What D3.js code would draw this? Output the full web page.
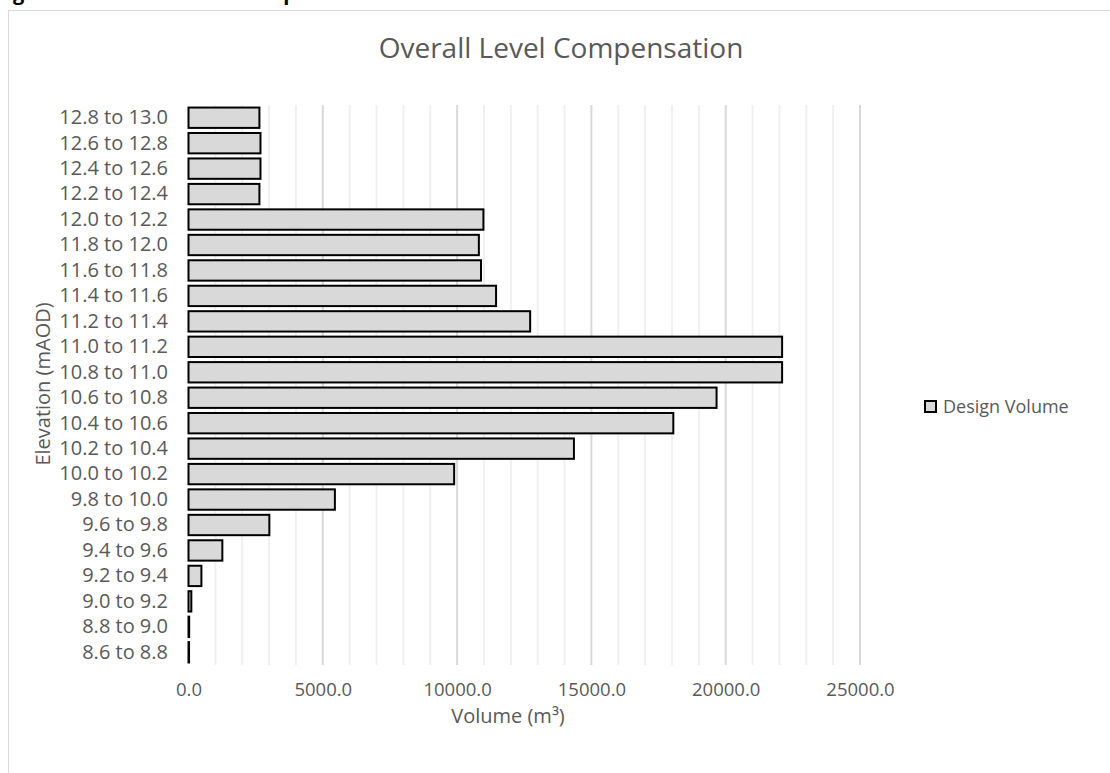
<!DOCTYPE html>
<html lang="en">
<head>
    <meta charset="UTF-8">
    <title>Overall Level Compensation</title>
    <script src="https://d3js.org/d3.v7.min.js"></script>
    <style>
        body { margin: 0; background: #fff; }
        svg text { font-family: "Open Sans", Lato, sans-serif; fill: #595959; }
    </style>
</head>
<body>
    <div id="chart"></div>

    <script>
        // Elevation bands, top to bottom as in the chart
        const bands = [
            "12.8 to 13.0", "12.6 to 12.8", "12.4 to 12.6", "12.2 to 12.4",
            "12.0 to 12.2", "11.8 to 12.0", "11.6 to 11.8", "11.4 to 11.6",
            "11.2 to 11.4", "11.0 to 11.2", "10.8 to 11.0", "10.6 to 10.8",
            "10.4 to 10.6", "10.2 to 10.4", "10.0 to 10.2", "9.8 to 10.0",
            "9.6 to 9.8", "9.4 to 9.6", "9.2 to 9.4", "9.0 to 9.2",
            "8.8 to 9.0", "8.6 to 8.8"
        ];
        // Design volume (m3) for each band
        const designVolume = [
            2640, 2680, 2680, 2640,
            10980, 10810, 10890, 11450,
            12720, 22100, 22100, 19660,
            18050, 14350, 9890, 5450,
            3010, 1260, 480, 105,
            25, 20
        ];
        const xTicks = [0, 5000, 10000, 15000, 20000, 25000];

        const width = 1110;
        const height = 773;

        const svg = d3.select("#chart")
            .append("svg")
            .attr("width", width)
            .attr("height", height);

        // figure caption above the chart box (only its lower edge is on the page)
        svg.append("text")
            .attr("x", -4)
            .attr("y", 0)
            .style("font-weight", "bold")
            .style("font-size", "20px")
            .style("fill", "#000")
            .text("Figure 4.2: Overall Level Compensation");

        // chart frame
        svg.append("rect")
            .attr("x", 8.5)
            .attr("y", 10.5)
            .attr("width", 1200)
            .attr("height", 900)
            .attr("fill", "#fff")
            .attr("stroke", "#d9d9d9");

        const x = d3.scaleLinear()
            .domain([0, 25000])
            .range([188.5, 860]);

        const y = d3.scaleBand()
            .domain(bands)
            .range([105, 665])
            .paddingInner(0.2)
            .paddingOuter(0.1);

        // gridlines, every 1000 with darker ones at the labelled ticks
        const grid = d3.range(1000, 25001, 1000);
        svg.append("g")
            .selectAll("line")
            .data(grid)
            .join("line")
            .attr("x1", d => x(d))
            .attr("x2", d => x(d))
            .attr("y1", 105)
            .attr("y2", 665)
            .attr("stroke", d => d % 5000 === 0 ? "#d9d9d9" : "#f0f0f0")
            .attr("stroke-width", 2);

        // bars
        svg.append("g")
            .selectAll("rect")
            .data(bands)
            .join("rect")
            .attr("x", x(0))
            .attr("y", d => y(d))
            .attr("width", (d, i) => x(designVolume[i]) - x(0))
            .attr("height", y.bandwidth())
            .attr("fill", "#d9d9d9")
            .attr("stroke", "#000")
            .attr("stroke-width", 2);

        // value axis labels
        const xAxis = svg.append("g")
            .attr("transform", "translate(0,665)")
            .call(d3.axisBottom(x).tickValues(xTicks).tickFormat(d3.format(".1f")).tickSize(0).tickPadding(0));
        xAxis.select(".domain").remove();
        xAxis.selectAll("text")
            .attr("dy", null)
            .attr("y", 31)
            .style("font-size", "18.5px")
            .attr("fill", null);

        // category axis labels
        const yAxis = svg.append("g")
            .attr("transform", "translate(168,0)")
            .call(d3.axisLeft(y).tickSize(0).tickPadding(0));
        yAxis.select(".domain").remove();
        yAxis.selectAll("text").style("font-size", "20px").attr("fill", null);

        // title
        svg.append("text")
            .attr("x", 561)
            .attr("y", 58)
            .attr("text-anchor", "middle")
            .style("font-size", "28px")
            .text("Overall Level Compensation");

        // axis titles
        svg.append("text")
            .attr("x", 508)
            .attr("y", 723)
            .attr("text-anchor", "middle")
            .style("font-size", "20px")
            .text("Volume (m³)");

        svg.append("text")
            .attr("transform", "translate(50,384) rotate(-90)")
            .attr("text-anchor", "middle")
            .style("font-size", "20px")
            .text("Elevation (mAOD)");

        // legend
        svg.append("rect")
            .attr("x", 925)
            .attr("y", 401)
            .attr("width", 11)
            .attr("height", 11)
            .attr("fill", "#d9d9d9")
            .attr("stroke", "#000")
            .attr("stroke-width", 2);
        svg.append("text")
            .attr("x", 943)
            .attr("y", 413)
            .style("font-size", "18px")
            .text("Design Volume");
    </script>
</body>
</html>
